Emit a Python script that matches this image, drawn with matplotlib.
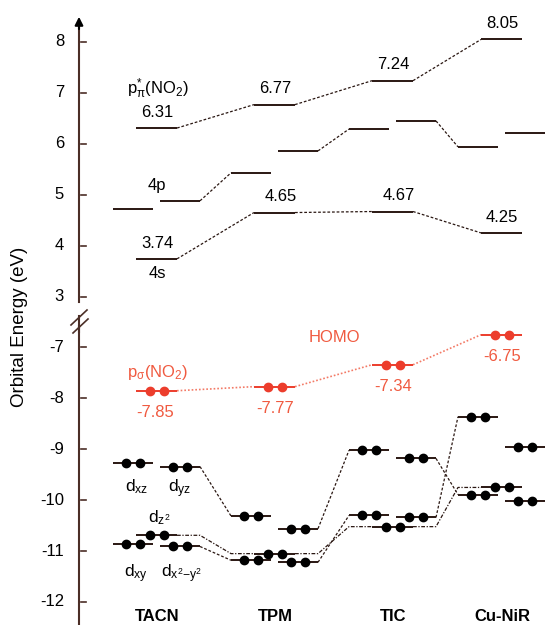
import matplotlib
matplotlib.use('Agg')
import matplotlib.pyplot as plt

plt.rcParams['font.family'] = ['Liberation Sans', 'DejaVu Sans']
plt.rcParams['mathtext.fontset'] = 'custom'
plt.rcParams['mathtext.rm'] = 'Liberation Sans'
plt.rcParams['mathtext.it'] = 'Liberation Sans'

# complexes
complexes = ['TACN', 'TPM', 'TIC', 'Cu-NiR']

# upper block (eV)
pi_star = [6.31, 6.77, 7.24, 8.05]
s4 = [3.74, 4.65, 4.67, 4.25]
p4_left = [4.72, 5.43, 6.29, 5.94]
p4_right = [4.88, 5.86, 6.45, 6.21]

# lower block (eV)
homo = [-7.85, -7.77, -7.34, -6.75]
d_left_up = [-9.26, -10.31, -9.02, -8.36]
d_left_lo = [-10.87, -11.18, -10.30, -9.89]
d_center = [-10.69, -11.05, -10.52, -9.75]
d_right_up = [-9.34, -10.56, -9.18, -8.96]
d_right_lo = [-10.91, -11.22, -10.34, -10.01]
# which right level joins which left level of the next complex
d_links = [[('up', 'up'), ('lo', 'lo')],
           [('up', 'up'), ('lo', 'lo')],
           [('up', 'lo'), ('lo', 'up')]]

upper_ticks = [3, 4, 5, 6, 7, 8]
lower_ticks = [-7, -8, -9, -10, -11, -12]

# layout (x in pixels)
xc = [157, 275, 393, 502]
cols = {'left': (-44, -4), 'center': (-21, 20), 'right': (3, 43)}
shift = 9  # lower block is drawn shifted up past the axis break

dark = '#2a1712'
axcol = '#4b2e26'
red = '#ec3d2c'
redtxt = '#f05a40'


def lo(v):
    return v + shift


fig = plt.figure(figsize=(5.46, 6.25), dpi=100)
ax = fig.add_axes([0, 0, 1, 1])
ax.set_xlim(0, 546)
ax.set_ylim(-3.452, 8.825)
ax.axis('off')


def level(i, col, y, dots=False, color=dark):
    a, b = cols[col]
    x0, x1 = xc[i] + a, xc[i] + b
    ax.plot([x0, x1], [y, y], color=color, lw=1.4, solid_capstyle='butt', zorder=3)
    if dots:
        m = (x0 + x1) / 2
        ax.plot([m - 7, m + 7], [y, y], 'o', color='black' if color == dark else color,
                ms=6, zorder=4)


def link(x0, y0, x1, y1, color=dark, ls=(0, (2.2, 1.5)), lw=0.9):
    ax.plot([x0, x1], [y0, y1], color=color, lw=lw, linestyle=ls, zorder=2)


# axis with break
ax.plot([79, 79], [lo(-13), 2.62], color=axcol, lw=1.5)
ax.plot([79, 79], [2.43, lo(-7) + 0.3], color=axcol, lw=1.5)
ax.plot([79, 79], [2.9, 8.3], color=axcol, lw=1.5)
ax.annotate('', xy=(79, 8.55), xytext=(79, 8.2),
            arrowprops=dict(arrowstyle='-|>', color='black', lw=1.5, mutation_scale=12))
ax.plot([71, 87], [8.825 - 325 / 50.91, 8.825 - 310 / 50.91], color=axcol, lw=1.2)
ax.plot([73, 88], [8.825 - 333 / 50.91, 8.825 - 319 / 50.91], color=axcol, lw=1.2)
for t in upper_ticks:
    ax.plot([81, 86], [t, t], color=axcol, lw=1.2)
    ax.text(64, t, str(t), ha='right', va='center', fontsize=12)
for t in lower_ticks:
    ax.plot([81, 86], [lo(t), lo(t)], color=axcol, lw=1.2)
    ax.text(64, lo(t), str(t), ha='right', va='center', fontsize=12)

fig.text(20 / 546, 1 - 327 / 625, 'Orbital Energy (eV)', rotation=90,
         ha='center', va='center', fontsize=13.5)

# upper levels
for i in range(4):
    level(i, 'center', pi_star[i])
    level(i, 'center', s4[i])
    level(i, 'left', p4_left[i])
    level(i, 'right', p4_right[i])
    ax.text(xc[i], pi_star[i] + 0.31, f'{pi_star[i]:.2f}', ha='center', va='center', fontsize=12)
    ax.text(xc[i] + (6 if i in (1, 2) else 0), s4[i] + 0.31, f'{s4[i]:.2f}',
            ha='center', va='center', fontsize=12)
for i in range(3):
    link(xc[i] + 20, pi_star[i], xc[i + 1] - 21, pi_star[i + 1])
    link(xc[i] + 20, s4[i], xc[i + 1] - 21, s4[i + 1])
    link(xc[i] + 43, p4_right[i], xc[i + 1] - 44, p4_left[i + 1])

ax.text(158, pi_star[0] + 0.78, r'p$_{\mathregular{π}}^{\mathregular{*}}$(NO$_2$)',
        ha='center', va='center', fontsize=12)
ax.text(157, p4_right[0] + 0.31, '4p', ha='center', va='center', fontsize=12)
ax.text(157, s4[0] - 0.28, '4s', ha='center', va='center', fontsize=12)

# HOMO
for i in range(4):
    level(i, 'center', lo(homo[i]), dots=True, color=red)
    ax.text(xc[i] + (-2 if i == 0 else 0), lo(homo[i]) - 0.43, f'{homo[i]:.2f}',
            ha='center', va='center', fontsize=12, color=redtxt)
for i in range(3):
    link(xc[i] + 20, lo(homo[i]), xc[i + 1] - 21, lo(homo[i + 1]),
         color='#f37a66', ls=(0, (1, 1.2)), lw=1.2)
ax.text(158, lo(homo[0]) + 0.35, r'p$_{\mathregular{σ}}$(NO$_2$)',
        ha='center', va='center', fontsize=12, color=redtxt)
ax.text(334, lo(homo[1]) + 0.96, 'HOMO', ha='center', va='center', fontsize=12, color=redtxt)

# d levels
left = {'up': d_left_up, 'lo': d_left_lo}
right = {'up': d_right_up, 'lo': d_right_lo}
for i in range(4):
    level(i, 'left', lo(d_left_up[i]), dots=True)
    level(i, 'left', lo(d_left_lo[i]), dots=True)
    level(i, 'center', lo(d_center[i]), dots=True)
    level(i, 'right', lo(d_right_up[i]), dots=True)
    level(i, 'right', lo(d_right_lo[i]), dots=True)
for i in range(3):
    for a, b in d_links[i]:
        link(xc[i] + 43, lo(right[a][i]), xc[i + 1] - 44, lo(left[b][i + 1]))
    dd = (0, (3, 1.3, 1, 1.3))
    y0, y1 = lo(d_center[i]), lo(d_center[i + 1])
    ax.plot([xc[i] + 20, xc[i] + 43, xc[i + 1] - 44, xc[i + 1] - 21], [y0, y0, y1, y1],
            color=dark, lw=0.9, linestyle=dd, zorder=2)

ax.text(137, lo(d_left_up[0]) - 0.48, r'd$_{\mathregular{xz}}$', ha='center', va='center', fontsize=12.5)
ax.text(180, lo(d_right_up[0]) - 0.44, r'd$_{\mathregular{yz}}$', ha='center', va='center', fontsize=12.5)
ax.text(159, lo(d_center[0]) + 0.34, r'd$_{\mathregular{z^2}}$', ha='center', va='center', fontsize=12.5)
ax.text(136, lo(d_left_lo[0]) - 0.58, r'd$_{\mathregular{xy}}$', ha='center', va='center', fontsize=12.5)
ax.text(181, lo(d_left_lo[0]) - 0.58, r'd$_{\mathregular{x^2{-}y^2}}$', ha='center', va='center', fontsize=12.5)

# complex names
for i, name in enumerate(complexes):
    ax.text(xc[i], -3.29, name, ha='center', va='center', fontsize=12, fontweight='bold')

fig.savefig('out.png', dpi=100)
